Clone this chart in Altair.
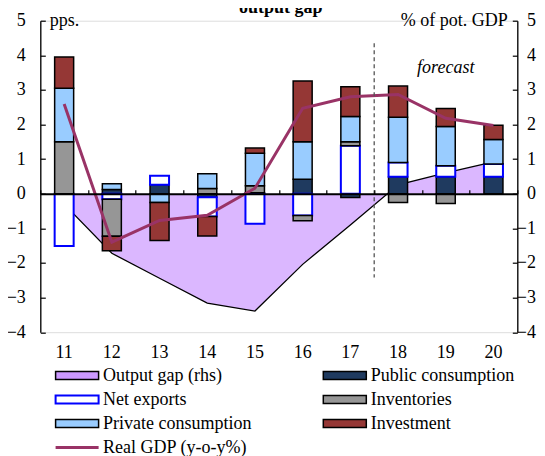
import altair as alt
import pandas as pd

years = ["11", "12", "13", "14", "15", "16", "17", "18", "19", "20"]
public_consumption = [0.0, 0.12, 0.26, -0.10, 0.03, 0.42, -0.11, 0.49, 0.49, 0.49]
net_exports = [-1.51, -0.16, 0.26, -0.56, -0.87, -0.63, 1.39, 0.41, 0.32, 0.37]
inventories = [1.50, -1.07, 0.0, 0.15, 0.20, -0.15, 0.11, -0.25, -0.28, 0.0]
private_consumption = [1.55, 0.17, -0.25, 0.43, 0.94, 1.08, 0.73, 1.31, 1.13, 0.71]
investment = [0.90, -0.42, -1.10, -0.56, 0.15, 1.76, 0.86, 0.90, 0.52, 0.41]
output_gap = [-0.30, -1.72, -2.44, -3.16, -3.39, -2.04, -0.90, 0.26, 0.60, 0.92]
real_gdp = [2.59, -1.40, -0.77, -0.62, 0.16, 2.47, 2.80, 2.87, 2.18, 1.97]

series_names = ["Public consumption", "Net exports", "Inventories",
                "Private consumption", "Investment"]
series_values = [public_consumption, net_exports, inventories,
                 private_consumption, investment]
fills = ["#1F3A5F", "#FFFFFF", "#969696", "#99CCFF", "#953735"]
strokes = ["#000000", "#0000FF", "#000000", "#000000", "#000000"]

gap_color = "#CC99FF"
gdp_color = "#993366"
forecast_year = "18"
forecast_label_year = "19"
forecast_label_y = 3.63
forecast_rule_top = 4.35
forecast_rule_bottom = -2.42
y_ticks = list(range(-4, 6))
title_text = "output gap"
left_unit = "pps."
right_unit = "% of pot. GDP"

legend_names = ["Output gap (rhs)", "Public consumption", "Net exports", "Inventories",
                "Private consumption", "Investment", "Real GDP (y-o-y%)"]

W, H = 477, 311.5
TOTAL_W, TOTAL_H = 529, 448
LEFT, TOP = 32.3, 12.7
FONT = "Liberation Serif"
zero_px = H * 5 / 9
right_label_pad = TOTAL_W - LEFT - W - 1.5

rows = []
for name, vals, k in zip(series_names, series_values, range(len(series_names))):
    for yr, v in zip(years, vals):
        if v != 0:
            rows.append({"year": yr, "series": name, "value": v, "ord": k})
bars_df = pd.DataFrame(rows)
lines_df = pd.DataFrame({"year": years, "gap": output_gap, "gdp": real_gdp})

xscale = alt.Scale(domain=years, paddingInner=0, paddingOuter=0)
yscale = alt.Scale(domain=[-4, 5], nice=False, zero=False)

area = alt.Chart(lines_df).mark_area(
    color=gap_color, line={"color": "black", "strokeWidth": 1.3}
).encode(
    x=alt.X("year:N", scale=xscale, sort=years,
            axis=alt.Axis(orient="bottom", domain=False, ticks=False, labelPadding=11,
                          labelAngle=0, title=None)),
    y=alt.Y("gap:Q", scale=yscale,
            axis=alt.Axis(orient="left", domain=False, ticks=False, tickSize=0,
                          labelPadding=15, values=y_ticks, title=left_unit,
                          titleAngle=0, titleX=9, titleY=5, titleAlign="left",
                          titleBaseline="alphabetic", titleFontWeight="normal",
                          titleFontSize=18, titleFont=FONT, grid=False)),
)

bars = alt.Chart(bars_df).mark_bar(size=19).encode(
    x=alt.X("year:N", scale=xscale, sort=years,
            axis=alt.Axis(orient="top", offset=-zero_px, domain=True, domainColor="black",
                          domainWidth=2, ticks=True, tickBand="extent", tickSize=4,
                          tickColor="black", tickWidth=1.2, labels=False, title=None,
                          zindex=1)),
    y=alt.Y("value:Q", stack="zero", scale=yscale,
            axis=alt.Axis(orient="right", domain=False, ticks=False, tickSize=0,
                          labelPadding=right_label_pad, labelAlign="right",
                          values=y_ticks, title=right_unit,
                          titleAngle=0, titleX=-10, titleY=5, titleAlign="right",
                          titleBaseline="alphabetic", titleFontWeight="normal",
                          titleFontSize=18, titleFont=FONT, grid=False)),
    fill=alt.Fill("series:N", scale=alt.Scale(domain=series_names, range=fills), legend=None),
    stroke=alt.Stroke("series:N", scale=alt.Scale(domain=series_names, range=strokes), legend=None),
    strokeWidth=alt.condition(alt.datum.series == "Net exports", alt.value(2), alt.value(1.5)),
    order=alt.Order("ord:Q", sort="ascending"),
)

gdp = alt.Chart(lines_df).mark_line(color=gdp_color, strokeWidth=3).encode(
    x=alt.X("year:N", scale=xscale, sort=years, axis=None),
    y=alt.Y("gdp:Q", scale=yscale,
            axis=alt.Axis(orient="right", offset=-W, labels=False, ticks=True, tickSize=5,
                          tickColor="black", tickWidth=1.2, domain=True, domainColor="black",
                          domainWidth=1.3, values=y_ticks, title=None, grid=False)),
)

rule_df = pd.DataFrame({"year": [forecast_year], "top": [forecast_rule_top],
                        "bottom": [forecast_rule_bottom]})
rule = alt.Chart(rule_df).mark_rule(color="#555555", strokeWidth=1.3, strokeDash=[4, 3]).encode(
    x=alt.X("year:N", scale=xscale, sort=years, bandPosition=0, axis=None),
    y=alt.Y("top:Q", scale=yscale,
            axis=alt.Axis(orient="left", offset=-W, labels=False, ticks=True, tickSize=5,
                          tickColor="black", tickWidth=1.2, domain=True, domainColor="black",
                          domainWidth=1.3, values=y_ticks, title=None, grid=False)),
    y2="bottom:Q",
)

fc_df = pd.DataFrame({"year": [forecast_label_year], "y": [forecast_label_y], "t": ["forecast"]})
fc = alt.Chart(fc_df).mark_text(font=FONT, fontSize=18, fontStyle="italic",
                                baseline="middle", color="black").encode(
    x=alt.X("year:N", scale=xscale, sort=years, axis=None),
    y=alt.Y("y:Q", scale=yscale, axis=None),
    text="t:N",
)

title_df = pd.DataFrame({"t": [title_text]})
title = alt.Chart(title_df).mark_text(font=FONT, fontSize=18, fontWeight="bold",
                                      baseline="alphabetic", align="center").encode(
    x=alt.value(240.5), y=alt.value(-7.7), text="t:N"
)

# legend
sym_fill = [gap_color] + fills + ["none"]
sym_stroke = ["#000000"] + strokes + [gdp_color]
col_x = [15.3, 283.0]
row_y0, row_step = 354.8, 24.0
sym_w, sym_h = 43, 8
leg = []
for i, name in enumerate(legend_names):
    c, r = i % 2, i // 2
    x0 = col_x[c]
    yc = row_y0 + r * row_step
    leg.append({"name": name, "x0": x0, "x1": x0 + sym_w, "tx": x0 + sym_w + 4.5,
                "yc": yc, "yt": yc - sym_h / 2, "yb": yc + sym_h / 2,
                "fill": sym_fill[i], "stroke": sym_stroke[i],
                "sw": 2 if name == "Net exports" else 1.5,
                "kind": "line" if i == len(legend_names) - 1 else "box"})
leg_df = pd.DataFrame(leg)

leg_box = alt.Chart(leg_df).transform_filter(alt.datum.kind == "box").mark_rect().encode(
    x=alt.X("x0:Q", scale=None, axis=None), x2="x1:Q",
    y=alt.Y("yt:Q", scale=None, axis=None), y2="yb:Q",
    fill=alt.Fill("fill:N", scale=None, legend=None),
    stroke=alt.Stroke("stroke:N", scale=None, legend=None),
    strokeWidth=alt.StrokeWidth("sw:Q", scale=None, legend=None),
)
leg_line = alt.Chart(leg_df).transform_filter(alt.datum.kind == "line").mark_rule(
    color=gdp_color, strokeWidth=3).encode(
    x=alt.X("x0:Q", scale=None, axis=None), x2="x1:Q",
    y=alt.Y("yc:Q", scale=None, axis=None),
)
leg_text = alt.Chart(leg_df).mark_text(font=FONT, fontSize=18, align="left",
                                       baseline="middle", color="black").encode(
    x=alt.X("tx:Q", scale=None, axis=None),
    y=alt.Y("yc:Q", scale=None, axis=None),
    text="name:N",
)

chart = alt.layer(area, bars, gdp, rule, fc, title, leg_box, leg_line, leg_text).resolve_axis(
    x="independent", y="independent"
).properties(
    width=W, height=H,
    autosize=alt.AutoSizeParams(type="none"),
    padding={"left": LEFT, "top": TOP, "right": TOTAL_W - LEFT - W,
             "bottom": TOTAL_H - TOP - H},
).configure_view(stroke=None).configure(
    font=FONT
).configure_axis(
    labelFont=FONT, labelFontSize=18, labelColor="black", grid=False
)

chart.save("out.html", embed_options={"renderer": "svg", "actions": False})
